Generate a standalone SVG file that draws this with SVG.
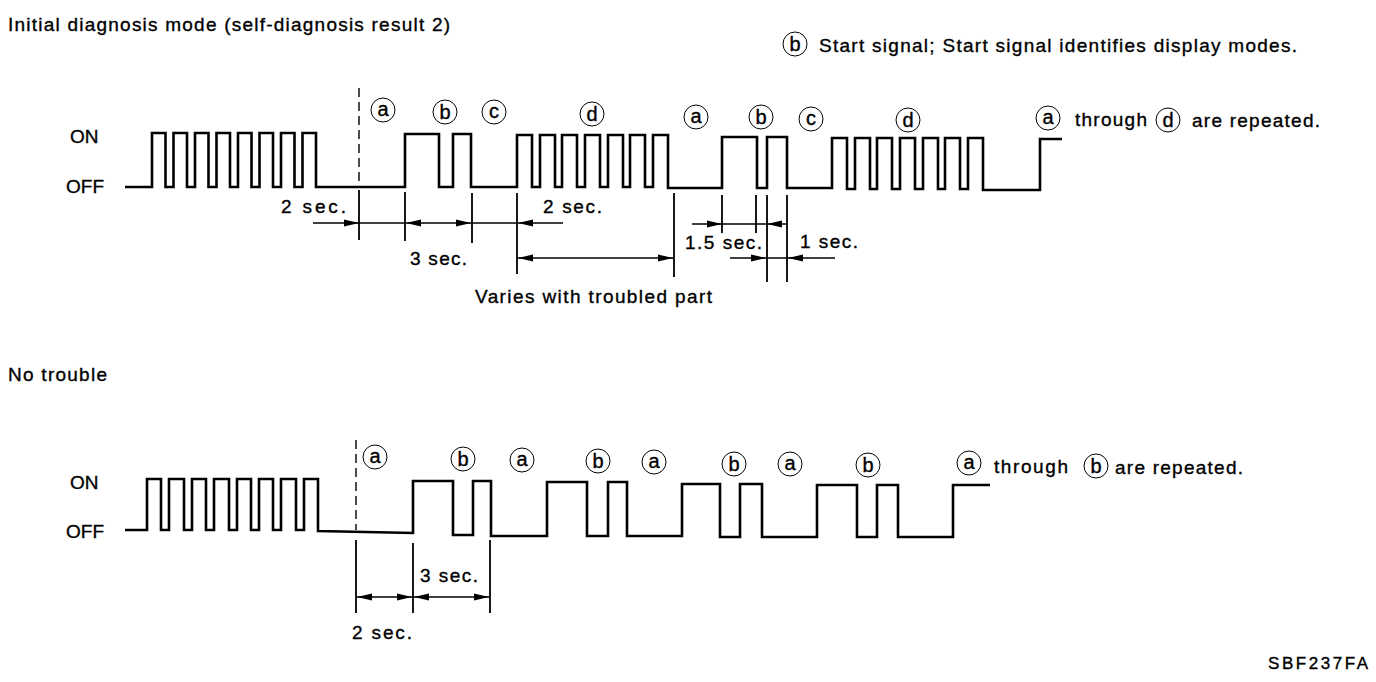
<svg xmlns="http://www.w3.org/2000/svg" width="1376" height="682" viewBox="0 0 1376 682">
<style>
text{font-family:"Liberation Sans",Arial,sans-serif;font-size:19px;fill:#000;stroke:#000;stroke-width:0.35}
.lbl{font-size:20px;text-anchor:middle}
.sig{fill:none;stroke:#000;stroke-width:2.6;stroke-linejoin:miter}
.dim{fill:none;stroke:#000;stroke-width:1.4}
.ext{fill:none;stroke:#000;stroke-width:1.8}
.dash{fill:none;stroke:#000;stroke-width:1.4;stroke-dasharray:9 5}
.circ{fill:none;stroke:#000;stroke-width:1}
</style>
<defs>
<polygon id="ah" points="0,0 -15,-3.5 -15,3.5" fill="#000"/>
<g id="ca"><circle class="circ" r="12"/><text class="lbl" y="6">a</text></g>
<g id="cb"><circle class="circ" r="12"/><text class="lbl" y="7">b</text></g>
<g id="cc"><circle class="circ" r="12"/><text class="lbl" y="6">c</text></g>
<g id="cd"><circle class="circ" r="12"/><text class="lbl" y="7">d</text></g>
</defs>
<rect width="1376" height="682" fill="#fff"/>

<g id="titles">
<text x="8" y="31" textLength="442" lengthAdjust="spacing">Initial diagnosis mode (self-diagnosis result 2)</text>
<use href="#cb" x="795" y="44"/>
<text x="819" y="52" textLength="478" lengthAdjust="spacing">Start signal; Start signal identifies display modes.</text>
<text x="8" y="381" textLength="99" lengthAdjust="spacing">No trouble</text>
<text x="1268" y="669" textLength="100" lengthAdjust="spacing" style="font-size:17px">SBF237FA</text>
</g>

<g id="top-waveform">
<text x="70" y="143">ON</text>
<text x="66" y="193">OFF</text>
<path class="sig" d="M125,187 H152 V133 H165.5 V187 H173.5 V133 H187 V187 H195 V133 H208.5 V187 H216.5 V133 H230 V187 H238 V133 H251.5 V187 H259.5 V133 H273 V187 H281 V133 H294.5 V187 H302.5 V133 H316 V187 H405 V134 H439 V187 H453 V134 H471 V187 H517 V135 H532 V187 H540 V135 H555 V187 H562 V135 H577 V187 H585 V135 H600 V187 H608 V135 H623 V187 H630 V135 H645 V187 H653 V135 H668 V188 H722 V137 H757 V188 H767 V137 H787 V188 H832 V138 H847 V189 H855 V138 H870 V189 H877 V138 H892 V189 H900 V138 H915 V189 H923 V138 H938 V189 H945 V138 H960 V189 H968 V138 H983 V190 H1040 V139 H1062"/>
<use href="#ca" x="383" y="110"/>
<use href="#cb" x="445" y="112"/>
<use href="#cc" x="494" y="112"/>
<use href="#cd" x="592" y="114"/>
<use href="#ca" x="696" y="117"/>
<use href="#cb" x="761" y="117"/>
<use href="#cc" x="811" y="119"/>
<use href="#cd" x="908" y="120"/>
<use href="#ca" x="1048" y="118"/>
<text x="1075" y="126" textLength="72" lengthAdjust="spacing">through</text>
<use href="#cd" x="1168" y="120"/>
<text x="1192" y="127" textLength="128" lengthAdjust="spacing">are repeated.</text>
</g>

<g id="top-dimensions">
<path class="dash" d="M359,88 V186"/>
<path class="ext" d="M359,190 V240 M405,192 V241 M472,193 V243 M517,193 V274 M674,193 V277 M722,195 V233 M756,195 V233 M767,195 V282 M787,195 V282"/>
<path class="dim" d="M313,223 H563 M517,258 H674 M692,224 H787 M730,258 H835"/>
<use href="#ah" transform="translate(359,223)"/>
<use href="#ah" transform="translate(406,223) scale(-1,1)"/>
<use href="#ah" transform="translate(471,223)"/>
<use href="#ah" transform="translate(518,223) scale(-1,1)"/>
<use href="#ah" transform="translate(518,258) scale(-1,1)"/>
<use href="#ah" transform="translate(673,258)"/>
<use href="#ah" transform="translate(722,224)"/>
<use href="#ah" transform="translate(767,224) scale(-1,1)"/>
<use href="#ah" transform="translate(766,258)"/>
<use href="#ah" transform="translate(788,258) scale(-1,1)"/>
<text x="281" y="213" textLength="65" lengthAdjust="spacing">2 sec.</text>
<text x="410" y="265" textLength="57" lengthAdjust="spacing">3 sec.</text>
<text x="543" y="213" textLength="59" lengthAdjust="spacing">2 sec.</text>
<text x="685" y="249" textLength="77" lengthAdjust="spacing">1.5 sec.</text>
<text x="800" y="248" textLength="58" lengthAdjust="spacing">1 sec.</text>
<text x="475" y="303" textLength="237" lengthAdjust="spacing">Varies with troubled part</text>
</g>

<g id="bottom-waveform">
<text x="70" y="489">ON</text>
<text x="66" y="538">OFF</text>
<path class="sig" d="M125,530 H147 V479 H161 V530 H169 V479 H184 V530 H192 V479 H206 V530 H214 V479 H229 V530 H237 V479 H251 V530 H259 V479 H273 V530 H281 V479 H296 V530 H304 V479 H318 V531 L413,533 V481 H453 V535 H473 V481 H491 V536 H547 V482 H587 V536 H608 V482 H627 V536 H682 V484 H720 V537 H740 V484 H762 V537 H817 V485 H857 V537 H877 V485 H898 V537 H953 V485 H990"/>
<use href="#ca" x="375" y="457"/>
<use href="#cb" x="463" y="459"/>
<use href="#ca" x="522" y="460"/>
<use href="#cb" x="598" y="461"/>
<use href="#ca" x="654" y="462"/>
<use href="#cb" x="734" y="464"/>
<use href="#ca" x="790" y="464"/>
<use href="#cb" x="868" y="465"/>
<use href="#ca" x="969" y="463"/>
<text x="994" y="473" textLength="74" lengthAdjust="spacing">through</text>
<use href="#cb" x="1096" y="466"/>
<text x="1115" y="474" textLength="128" lengthAdjust="spacing">are repeated.</text>
</g>

<g id="bottom-dimensions">
<path class="dash" d="M356,440 V530"/>
<path class="ext" d="M356,540 V613 M413,543 V613 M490,540 V613"/>
<path class="dim" d="M356,597 H490"/>
<use href="#ah" transform="translate(357,597) scale(-1,1)"/>
<use href="#ah" transform="translate(412,597)"/>
<use href="#ah" transform="translate(414,597) scale(-1,1)"/>
<use href="#ah" transform="translate(489,597)"/>
<text x="420" y="582" textLength="58" lengthAdjust="spacing">3 sec.</text>
<text x="352" y="639" textLength="60" lengthAdjust="spacing">2 sec.</text>
</g>
</svg>
